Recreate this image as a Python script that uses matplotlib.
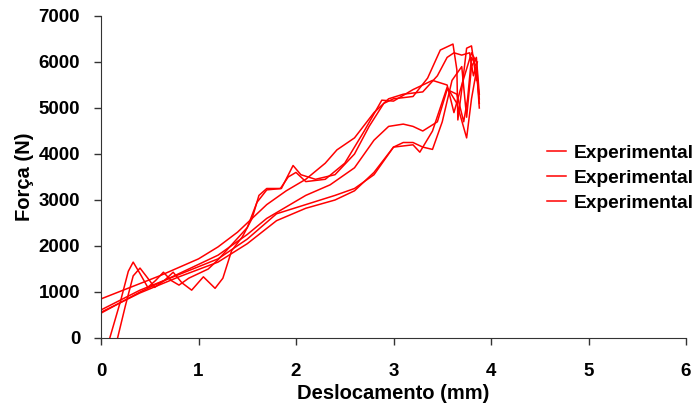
import matplotlib.pyplot as plt
import numpy as np

plt.rcParams['font.family'] = ['Liberation Sans', 'DejaVu Sans']
plt.rcParams['font.weight'] = 'bold'

# ensaios experimentais: deslocamento (mm) x força (N)
x1 = [0, 0.3, 0.6, 1.0, 1.2, 1.4, 1.55, 1.7, 1.9, 2.1, 2.3, 2.42, 2.6, 2.8, 2.95, 3.1, 3.3, 3.45, 3.55, 3.62, 3.7, 3.78, 3.82, 3.86]
y1 = [850, 1100, 1350, 1720, 1980, 2300, 2600, 2900, 3200, 3450, 3800, 4090, 4350, 4900, 5200, 5300, 5350, 5700, 6100, 6200, 6150, 6200, 5700, 6000]

x2 = [0, 0.4, 0.8, 1.2, 1.5, 1.8, 2.1, 2.4, 2.6, 2.8, 3.0, 3.1, 3.2, 3.3, 3.4, 3.5, 3.6, 3.7, 3.75, 3.8, 3.85, 3.88]
y2 = [560, 980, 1330, 1650, 2050, 2550, 2820, 3000, 3200, 3600, 4150, 4250, 4250, 4150, 4100, 4700, 5600, 5900, 4800, 5900, 6100, 5300]

x3 = [0, 0.4, 0.8, 1.2, 1.5, 1.8, 2.1, 2.4, 2.6, 2.8, 3.0, 3.2, 3.27, 3.4, 3.55, 3.65, 3.75, 3.8, 3.85, 3.88]
y3 = [610, 1040, 1380, 1720, 2150, 2700, 2900, 3100, 3250, 3550, 4150, 4200, 4040, 4500, 5450, 5100, 4350, 5200, 5800, 5200]

x4 = [0.09, 0.2, 0.28, 0.33, 0.4, 0.48, 0.56, 0.64, 0.72, 0.8, 0.9, 1.0, 1.1, 1.2, 1.35, 1.5, 1.6, 1.7, 1.85, 1.97, 2.05, 2.2, 2.4, 2.6, 2.75, 2.9, 3.0, 3.2, 3.35, 3.48, 3.61, 3.65, 3.66, 3.7, 3.75, 3.8, 3.85]
y4 = [0, 800, 1450, 1650, 1400, 1100, 1250, 1430, 1250, 1150, 1300, 1400, 1500, 1700, 2050, 2400, 2950, 3220, 3250, 3750, 3550, 3450, 3550, 4000, 4600, 5100, 5200, 5250, 5650, 6260, 6390, 5830, 4740, 5400, 6300, 6350, 5600]

x5 = [0.17, 0.25, 0.33, 0.4, 0.48, 0.55, 0.65, 0.74, 0.83, 0.93, 1.05, 1.17, 1.25, 1.34, 1.45, 1.55, 1.62, 1.7, 1.84, 1.92, 2.0, 2.1, 2.3, 2.5, 2.7, 2.88, 3.0, 3.2, 3.4, 3.55, 3.62, 3.7, 3.8, 3.85, 3.88]
y5 = [0, 700, 1350, 1520, 1300, 1100, 1250, 1430, 1200, 1040, 1330, 1080, 1300, 1900, 2200, 2600, 3100, 3250, 3250, 3500, 3600, 3400, 3450, 3800, 4500, 5170, 5150, 5400, 5600, 5500, 4900, 5500, 6200, 6000, 5100]

x6 = [0, 0.4, 0.8, 1.2, 1.5, 1.7, 1.9, 2.1, 2.35, 2.6, 2.8, 2.95, 3.1, 3.2, 3.3, 3.45, 3.55, 3.65, 3.72, 3.76, 3.8, 3.85, 3.88]
y6 = [540, 1000, 1400, 1800, 2250, 2600, 2850, 3100, 3330, 3700, 4300, 4600, 4650, 4600, 4500, 4700, 5400, 5300, 4700, 5200, 6100, 5900, 5000]

series = [(x1, y1), (x2, y2), (x3, y3), (x4, y4), (x5, y5), (x6, y6)]
legend_labels = ['Experimental', 'Experimental', 'Experimental']

fig = plt.figure(figsize=(6.99, 4.07), dpi=100)
ax = fig.add_axes([101 / 699, 69 / 407, 585 / 699, 322 / 407])

lines = []
for xs, ys in series:
    ln, = ax.plot(xs, ys, color='red', lw=1.1)
    lines.append(ln)

ax.set_xlim(0, 6)
ax.set_ylim(0, 7000)
ax.set_xticks(range(0, 7))
ax.set_yticks(range(0, 7001, 1000))
ax.tick_params(labelsize=13.5, length=5, width=1, color='#333333')
ax.tick_params(axis='x', pad=13)
ax.tick_params(axis='y', pad=10)
for lab in ax.get_xticklabels() + ax.get_yticklabels():
    lab.set_fontweight('bold')

for s in ['top', 'right']:
    ax.spines[s].set_visible(False)
for s in ['left', 'bottom']:
    ax.spines[s].set_color('#333333')

ax.set_xlabel('Deslocamento (mm)', fontsize=14.5, fontweight='bold', labelpad=3)
ax.set_ylabel('Força (N)', fontsize=14.5, fontweight='bold', labelpad=3)

leg = fig.legend(lines[:3], legend_labels, loc='center left',
                 bbox_to_anchor=(547 / 699, 1 - 178 / 407), frameon=False,
                 prop={'size': 13.8, 'weight': 'bold'}, handlelength=1.0,
                 handletextpad=0.4, labelspacing=0.4,
                 borderpad=0, borderaxespad=0)

fig.savefig('out.png', dpi=100)
